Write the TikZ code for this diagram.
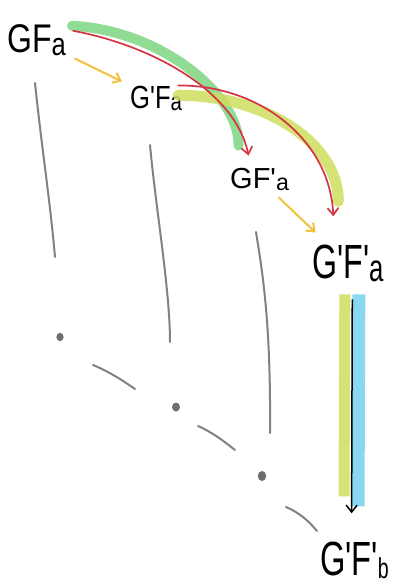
\documentclass[tikz,border=0pt]{standalone}
\usepackage{fontspec}
\setmainfont{Liberation Sans}
\usetikzlibrary{arrows.meta,calc}
\newcommand{\lowsub}[2][0.8]{\raisebox{-0.08em}{\scalebox{#1}{#2}}}
\newcommand{\pr}{\textquotesingle}
\definecolor{bandgreen}{RGB}{125,214,130}
\definecolor{bandyellow}{RGB}{206,221,95}
\definecolor{bandblue}{RGB}{125,212,242}
\definecolor{redarrow}{RGB}{214,52,66}
\definecolor{yelarrow}{RGB}{242,194,62}
\definecolor{pencil}{RGB}{130,130,130}
\begin{document}
\begin{tikzpicture}[x=1pt,y=-1pt,
  lbl/.style={inner sep=0pt, anchor=base west},
  tip/.style={-{Straight Barb[length=7pt,width=11pt]}},
  yarrow/.style={tip, draw=yelarrow, line width=2pt, line cap=round},
  rarrow/.style={tip, draw=redarrow, line width=1.7pt, line cap=round},
  gband/.style={draw=bandgreen, line width=10pt, line cap=round, opacity=0.85},
  yband/.style={draw=bandyellow, line width=11pt, opacity=0.85},
  bband/.style={draw=bandblue, line width=13pt, opacity=0.9},
  pen/.style={draw=pencil, line width=2pt, line cap=round},
  dot/.style={fill=pencil!85!black}]
\useasboundingbox (0,0) rectangle (400,584);
\fill[white] (0,0) rectangle (400,584);

% objects
\node[lbl] (GFa) at (7,52) {\fontsize{40}{40}\selectfont\scalebox{0.8}[1]{GF\lowsub{a}}};
\node[lbl] (GpFa) at (130,108) {\fontsize{32}{32}\selectfont\scalebox{0.8}[1]{G\pr F\lowsub{a}}};
\node[lbl] (GFpa) at (230,188) {\fontsize{29}{29}\selectfont\scalebox{1.0}[1]{GF\pr\lowsub{a}}};
\node[lbl] (GpFpa) at (312,278) {\fontsize{48}{48}\selectfont\scalebox{0.67}[1]{G\pr F\pr\lowsub{a}}};
\node[lbl] (GpFpb) at (320,575) {\fontsize{48}{48}\selectfont\scalebox{0.68}[1]{G\pr F\pr\lowsub[0.6]{b}}};

% pencil lines
\draw[pen] (35,83) .. controls (42,150) and (50,200) .. (55,257);
\draw[pen] (150,145) .. controls (156,210) and (170,290) .. (170,342);
\draw[pen] (256,232) .. controls (262,270) and (271,320) .. (270,433);
\draw[pen] (93,365) .. controls (110,372) and (125,382) .. (135,389);
\draw[pen] (198,426) .. controls (212,432) and (225,442) .. (235,450);
\draw[pen] (286,507) .. controls (298,512) and (308,520) .. (317,531);
\fill[dot] (60,337) ellipse (3.6pt and 4.2pt);
\fill[dot] (176,407) ellipse (4pt and 4.5pt);
\fill[dot] (262,476) ellipse (4.2pt and 5pt);

% highlight bands
\draw[gband] ($(GFa.east)+(6,-14)$) .. controls (160,30) and (240,95) .. ($(GFpa.north)+(-21,-22)$);
\draw[yband, line cap=round] ($(GpFa.east)+(-4,-3)$) .. controls (260,95) and (338,140) .. ($(GpFpa.north)+(-9.5,-43)$);
\draw[yband] ($(GpFpa.south)+(-3,12)$) -- ($(GpFpb.north)+(-10.5,-45)$);
\draw[bband] ($(GpFpa.south)+(11,12)$) -- ($(GpFpb.north)+(3.5,-35)$);

% red arrows
\draw[rarrow] ($(GFa.east)+(7,-9)$) .. controls (150,45) and (235,90) .. ($(GFpa.north)+(-11,-12)$);
\draw[rarrow] ($(GpFa.north east)+(-4,0)$) .. controls (260,85) and (330,140) .. ($(GpFpa.north)+(-14.5,-28)$);

% yellow arrows
\draw[yarrow, shorten <=10pt, shorten >=9pt] (GFa) -- (GpFa);
\draw[yarrow, shorten <=10pt, shorten >=17pt] (GFpa) -- (GpFpa);

% vertical arrow
\draw[tip, line width=1.5pt, shorten <=17pt, shorten >=28pt] ($(GpFpa.south)+(4.5,0)$) -- ($(GpFpb.north)+(-3,0)$);
\end{tikzpicture}
\end{document}
